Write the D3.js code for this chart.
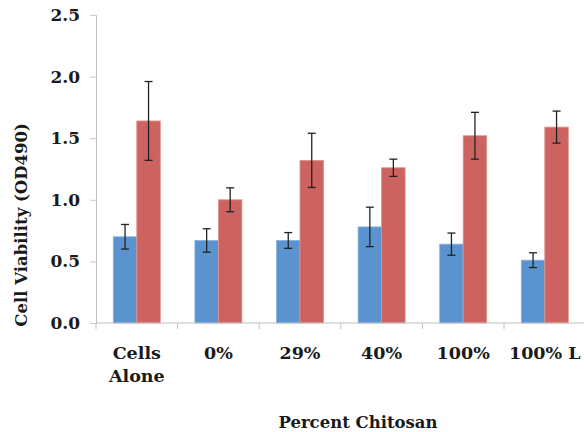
<!DOCTYPE html>
<html>
<head>
<meta charset="utf-8">
<script src="https://cdn.jsdelivr.net/npm/d3@7"></script>
<style>
  body { margin: 0; background: #fff; }
  svg { display: block; }
  .lbl { font-family: "DejaVu Serif", serif; font-weight: bold; fill: #1a1a1a; }
</style>
</head>
<body>
<svg width="584" height="432"></svg>
<script>
// data
const categories = ["Cells Alone", "0%", "29%", "40%", "100%", "100% L"];
const series = ["blue", "red"];
const blueValues = [0.70, 0.67, 0.67, 0.78, 0.64, 0.51];
const blueErrors = [0.10, 0.095, 0.064, 0.16, 0.09, 0.06];
const redValues = [1.64, 1.00, 1.32, 1.26, 1.52, 1.59];
const redErrors = [0.32, 0.097, 0.22, 0.07, 0.19, 0.13];
const yTicks = [0, 0.5, 1.0, 1.5, 2.0, 2.5];

const colors = { blue: "#5b93cf", red: "#cd6360" };
const edge = { blue: "#8bb3df", red: "#e0918e" };

const margin = { top: 15, right: 0, bottom: 109, left: 96 };
const width = 489.6;
const height = 432 - margin.top - margin.bottom;

const svg = d3.select("svg");
const g = svg.append("g")
  .attr("transform", `translate(${margin.left},${margin.top})`);

const x = d3.scaleBand()
  .domain(categories)
  .range([0, width])
  .padding(0);

const xSub = d3.scaleBand()
  .domain(series)
  .range([x.bandwidth() * 0.212, x.bandwidth() * 0.788]);

const y = d3.scaleLinear()
  .domain([0, 2.5])
  .range([height, 0]);

const rows = categories.map((c, i) => ({
  cat: c,
  vals: [
    { s: "blue", v: blueValues[i], e: blueErrors[i] },
    { s: "red", v: redValues[i], e: redErrors[i] }
  ]
}));

// Y axis
const yAxis = g.append("g")
  .call(d3.axisLeft(y).tickValues(yTicks).tickFormat(d3.format(".1f"))
    .tickSize(6).tickPadding(10));
yAxis.select(".domain").attr("stroke", "#c0c0c0");
yAxis.selectAll(".tick line").attr("stroke", "#c8c8c8");
yAxis.selectAll(".tick text")
  .attr("class", "lbl")
  .style("font-size", "17px");

// bars
const groups = g.selectAll(".grp")
  .data(rows)
  .join("g")
  .attr("transform", d => `translate(${x(d.cat)},0)`);

groups.selectAll("rect")
  .data(d => d.vals)
  .join("rect")
  .attr("x", d => xSub(d.s))
  .attr("y", d => y(d.v))
  .attr("width", xSub.bandwidth())
  .attr("height", d => y(0) - y(d.v))
  .attr("fill", d => colors[d.s])
  .attr("stroke", d => edge[d.s])
  .attr("stroke-width", 0.8);

// error bars
const eb = groups.selectAll(".err")
  .data(d => d.vals)
  .join("g")
  .attr("stroke", "#222")
  .attr("stroke-width", 1.3);

eb.append("line")
  .attr("x1", d => xSub(d.s) + xSub.bandwidth() / 2)
  .attr("x2", d => xSub(d.s) + xSub.bandwidth() / 2)
  .attr("y1", d => y(d.v + d.e))
  .attr("y2", d => y(d.v - d.e));

[1, -1].forEach(sign => {
  eb.append("line")
    .attr("x1", d => xSub(d.s) + xSub.bandwidth() / 2 - 4)
    .attr("x2", d => xSub(d.s) + xSub.bandwidth() / 2 + 4)
    .attr("y1", d => y(d.v + sign * d.e))
    .attr("y2", d => y(d.v + sign * d.e));
});

// X axis (ticks between categories)
const xAxis = g.append("g")
  .attr("transform", `translate(0,${height})`);
xAxis.append("line")
  .attr("x1", 0).attr("x2", width)
  .attr("stroke", "#c0c0c0");
xAxis.selectAll(".xt")
  .data(categories)
  .join("line")
  .attr("x1", d => x(d)).attr("x2", d => x(d))
  .attr("y1", 0).attr("y2", 6)
  .attr("stroke", "#c0c0c0");

// category labels
xAxis.selectAll(".cat")
  .data(categories)
  .join("text")
  .attr("class", "lbl")
  .attr("text-anchor", "middle")
  .style("font-size", "17.5px")
  .attr("x", d => x(d) + x.bandwidth() / 2)
  .attr("y", 36)
  .each(function(d) {
    const parts = d === "Cells Alone" ? ["Cells", "Alone"] : [d];
    d3.select(this).selectAll("tspan")
      .data(parts)
      .join("tspan")
      .attr("x", x(d) + x.bandwidth() / 2)
      .attr("dy", (p, i) => i === 0 ? 0 : 23)
      .text(p => p);
  });

// axis titles
svg.append("text")
  .attr("class", "lbl")
  .attr("text-anchor", "middle")
  .style("font-size", "16.5px")
  .attr("x", 358)
  .attr("y", 428)
  .text("Percent Chitosan");

svg.append("text")
  .attr("class", "lbl")
  .attr("text-anchor", "middle")
  .style("font-size", "16.5px")
  .attr("transform", "translate(27,225) rotate(-90)")
  .text("Cell Viability (OD490)");
</script>
</body>
</html>
